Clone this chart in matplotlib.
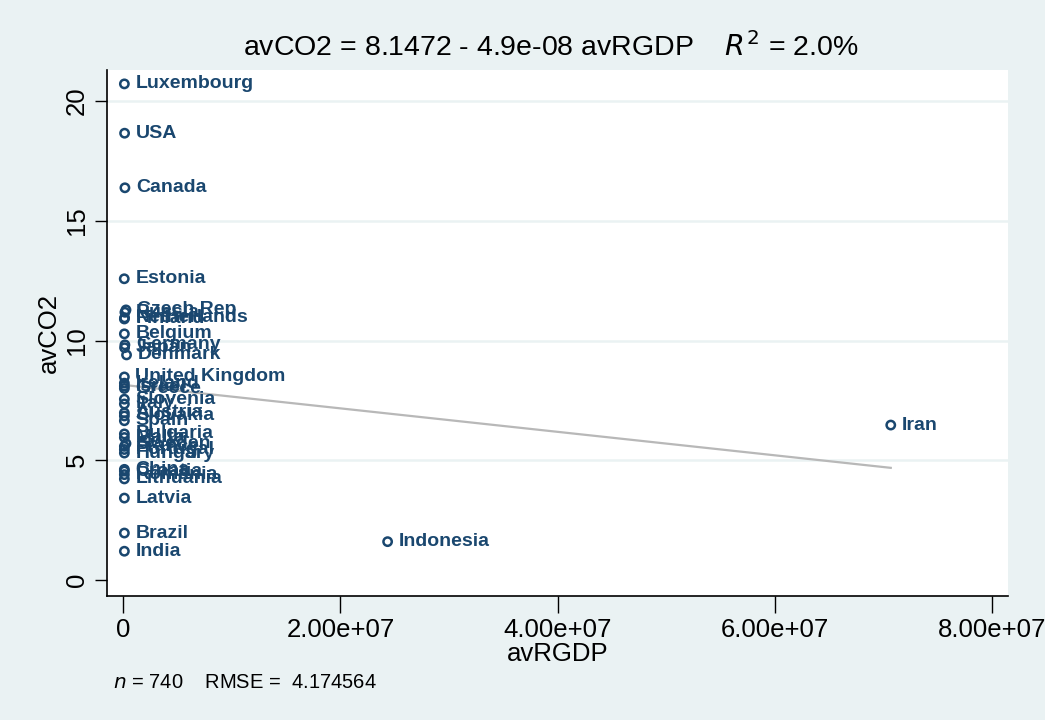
import matplotlib
matplotlib.use("Agg")
import matplotlib.pyplot as plt
import numpy as np

countries = ["Luxembourg", "USA", "Canada", "Estonia", "Czech Rep", "Russia",
             "Netherlands", "Finland", "Belgium", "Germany", "Japan", "Denmark",
             "United Kingdom", "Ireland", "Israel", "Greece", "Slovenia", "Italy",
             "Austria", "Slovakia", "Spain", "Bulgaria", "Malta", "Sweden", "France",
             "Portugal", "Hungary", "China", "Croatia", "Romania", "Lithuania",
             "Latvia", "Brazil", "India", "Indonesia", "Iran"]
avRGDP = [1.0e5, 1.2e5, 1.5e5, 0.9e5, 2.5e5, 1.5e5,
          1.2e5, 1.0e5, 1.0e5, 1.5e5, 1.2e5, 3.0e5,
          1.0e5, 1.0e5, 1.0e5, 1.0e5, 1.0e5, 1.0e5,
          1.0e5, 1.0e5, 1.0e5, 1.0e5, 1.0e5, 2.5e5, 1.0e5,
          1.0e5, 1.0e5, 1.0e5, 1.0e5, 1.0e5, 1.0e5,
          1.0e5, 1.0e5, 1.0e5, 2.435e7, 7.07e7]
avCO2 = [20.72, 18.66, 16.38, 12.58, 11.28, 11.18,
         10.95, 10.90, 10.28, 9.82, 9.70, 9.40,
         8.48, 8.22, 8.10, 8.00, 7.55, 7.35,
         6.98, 6.85, 6.65, 6.10, 5.95, 5.70, 5.58,
         5.45, 5.30, 4.62, 4.55, 4.40, 4.22,
         3.42, 1.96, 1.20, 1.60, 6.47]
intercept = 8.1472
slope = -4.9e-08

navy = "#1a476f"
bg = "#eaf2f3"
plt.rcParams['font.family'] = ['Liberation Sans', 'DejaVu Sans']

fig = plt.figure(figsize=(10.45, 7.2), dpi=100, facecolor=bg)
ax = fig.add_axes([107/1045, 1-596/720, (1008-107)/1045, (596-70)/720])
ax.set_facecolor("white")

for v in [5, 10, 15, 20]:
    ax.axhline(v, color=bg, lw=1.8, zorder=0)

ax.scatter(avRGDP, avCO2, s=36, facecolors="none", edgecolors=navy, linewidths=1.8, zorder=3)
for c, x, y in zip(countries, avRGDP, avCO2):
    ax.annotate(c, (x, y), xytext=(8, 0), textcoords="offset points",
                va="center", ha="left", fontsize=14, fontweight="bold", color=navy, zorder=4)

xs = np.array([min(avRGDP), max(avRGDP)])
ax.plot(xs, intercept + slope * xs, color="#b8b8b8", lw=1.6, zorder=2)

ax.set_xlim(-1.5e6, 8.15e7)
ax.set_ylim(-0.67, 21.3)
ax.set_xticks([0, 2e7, 4e7, 6e7, 8e7])
ax.set_xticklabels(["0", "2.00e+07", "4.00e+07", "6.00e+07", "8.00e+07"])
ax.set_yticks([0, 5, 10, 15, 20])
ax.set_yticklabels(["0", "5", "10", "15", "20"], rotation=90, va="center")
ax.tick_params(axis="both", labelsize=18.5, direction="out", color="black")
ax.tick_params(axis="x", length=12, width=1, pad=4)
ax.tick_params(axis="y", length=9, width=1, pad=4)
for s in ["top", "right"]:
    ax.spines[s].set_visible(False)
ax.spines["left"].set_linewidth(1.2)
ax.spines["bottom"].set_linewidth(1.2)

ax.set_xlabel("avRGDP", fontsize=18.5, labelpad=0)
ax.set_ylabel("avCO2", fontsize=18.5, labelpad=3)

fig.text(0.527, 1-47/720, r"avCO2 = 8.1472 - 4.9e-08 avRGDP    $\it{R}^2$ = 2.0%",
         ha="center", va="center", fontsize=20.5)
fig.text(113/1045, 1-682/720, r"$\it{n}$ = 740    RMSE =  4.174564",
         ha="left", va="center", fontsize=14.5)

fig.savefig("out.png", dpi=100, facecolor=bg)
